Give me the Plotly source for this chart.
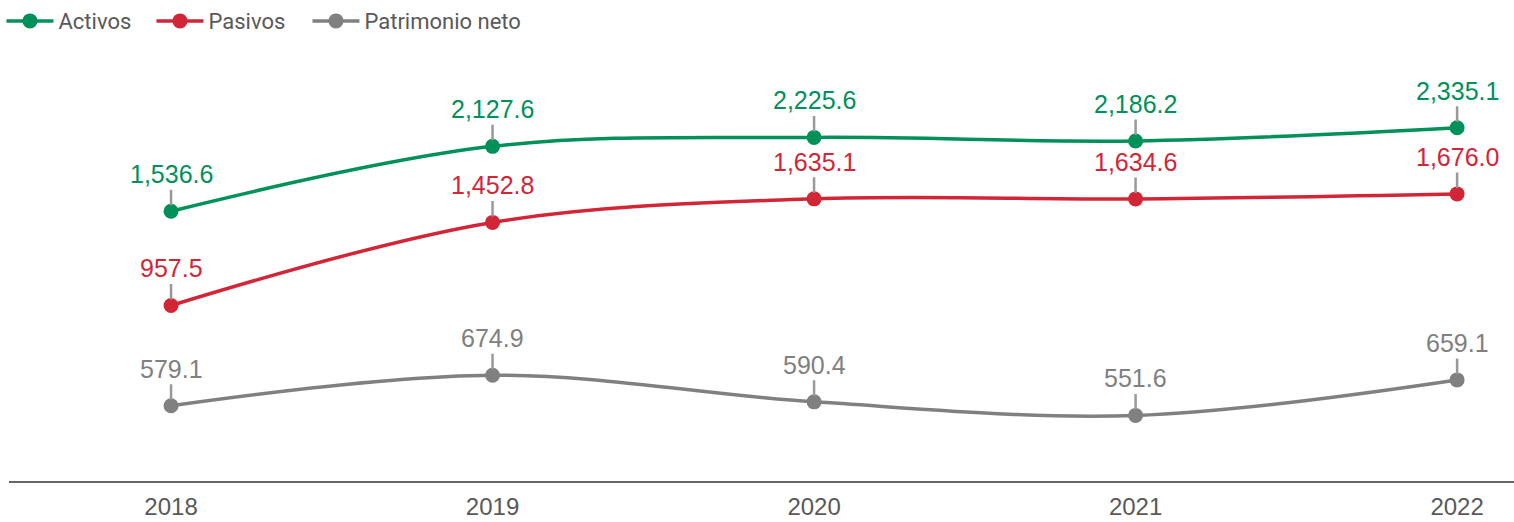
import math
import plotly.graph_objects as go

years = ["2018", "2019", "2020", "2021", "2022"]
activos = [1536.6, 2127.6, 2225.6, 2186.2, 2335.1]
pasivos = [957.5, 1452.8, 1635.1, 1634.6, 1676.0]
patrimonio = [579.1, 674.9, 590.4, 551.6, 659.1]

series = [
    ("Activos", activos, "#00905A", 88),
    ("Pasivos", pasivos, "#D22637", 94),
    ("Patrimonio neto", patrimonio, "#808080", 170),
]

fig = go.Figure()
annotations = []
for name, vals, color, lw in series:
    fig.add_trace(go.Scatter(
        x=years, y=vals, name=name, mode="lines+markers",
        line=dict(color=color, width=3.5, shape="spline", smoothing=1),
        marker=dict(color=color, size=15),
        hoverinfo="skip", legendwidth=lw,
    ))
    for i, v in enumerate(vals):
        # annotation positions on a log axis are given in log10 units
        annotations.append(dict(
            x=i, y=math.log10(v), xref="x", yref="y",
            text=f"{v:,.1f}", showarrow=True, arrowhead=0,
            arrowcolor="#999999", arrowwidth=2.5, ax=0, ay=-37,
            standoff=6, font=dict(family="Liberation Sans, Arial", size=25, color=color),
        ))

fig.update_layout(
    width=1514, height=522,
    margin=dict(l=9, r=0, t=40, b=41),
    plot_bgcolor="white", paper_bgcolor="white",
    showlegend=True,
    legend=dict(orientation="h", x=-0.005, y=1.0476, xanchor="left", yanchor="middle",
                font=dict(family="Roboto", size=22, color="#595959"),
                itemwidth=47, bgcolor="rgba(0,0,0,0)"),
    xaxis=dict(type="category", range=[-0.504, 4.177], showline=True, linecolor="#666666",
               linewidth=2, showgrid=False, zeroline=False, ticks="", ticklabelstandoff=3,
               tickfont=dict(family="Liberation Sans, Arial", size=24, color="#595959")),
    yaxis=dict(type="log", range=[2.5987, 3.5553], visible=False, showgrid=False),
    annotations=annotations,
)

fig.write_html("out.html", config={"displayModeBar": False},
               post_script="document.body.style.margin='0';")
